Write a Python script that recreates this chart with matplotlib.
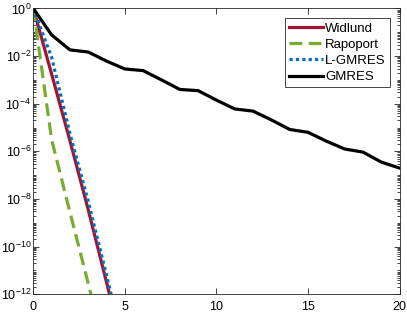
import numpy as np
import matplotlib
matplotlib.use("Agg")
import matplotlib.pyplot as plt
from matplotlib.ticker import LogLocator, FixedLocator, NullFormatter

plt.rcParams['font.family'] = ['Liberation Sans', 'DejaVu Sans']
plt.rcParams['mathtext.fontset'] = 'custom'
plt.rcParams['mathtext.rm'] = 'Liberation Sans'
plt.rcParams['mathtext.it'] = 'Liberation Sans:italic'

# iteration counts
it_short = [0, 1, 2, 3, 4, 5]
it_gmres = list(range(0, 21))

# log10 of residuals
widlund_log = [0, -2.75, -5.55, -8.45, -11.5, -14.6]
rapoport_log = [0, -5.5, -8.55, -11.55, -14.6, -17.6]
lgmres_log = [0, -2.05, -5.25, -8.1, -11.2, -14.4]
gmres_log = [0, -1.11, -1.74, -1.83, -2.21, -2.54, -2.61, -3.00, -3.40, -3.45,
             -3.85, -4.22, -4.31, -4.68, -5.08, -5.20, -5.57, -5.90, -6.03,
             -6.45, -6.70]

labels = ['Widlund', 'Rapoport', 'L-GMRES', 'GMRES']
colors = ['#A2142F', '#77AC30', '#0072BD', '#000000']

fig = plt.figure(figsize=(4.07, 3.13), dpi=100)
ax = fig.add_axes([0.0818, 0.0597, 0.9, 0.9133])

lw = 2.3
ax.semilogy(it_short, 10.0 ** np.array(widlund_log), '-', color=colors[0], lw=lw, label=labels[0])
ax.semilogy(it_short, 10.0 ** np.array(rapoport_log), '--', color=colors[1], lw=lw,
            dashes=(4, 2), label=labels[1])
ax.semilogy(it_short, 10.0 ** np.array(lgmres_log), ':', color=colors[2], lw=lw,
            dashes=(1, 1), label=labels[2])
ax.semilogy(it_gmres, 10.0 ** np.array(gmres_log), '-', color=colors[3], lw=lw, label=labels[3])

ax.set_xlim(0, 20)
ax.set_ylim(1e-12, 1e0)
ax.xaxis.set_major_locator(FixedLocator([0, 5, 10, 15, 20]))
ax.yaxis.set_major_locator(FixedLocator([10.0 ** e for e in range(-12, 1, 2)]))
ax.yaxis.set_minor_locator(LogLocator(base=10, subs=np.arange(1, 10), numticks=100))
ax.yaxis.set_minor_formatter(NullFormatter())

axcol = '#262626'
for s in ax.spines.values():
    s.set_color(axcol)
    s.set_linewidth(0.6)
ax.tick_params(which='both', direction='in', top=True, right=True, colors=axcol,
               labelcolor='black', labelsize=9, width=0.6)
ax.tick_params(which='major', length=4)
ax.tick_params(which='minor', length=2.2)
ax.tick_params(axis='x', pad=5)
ax.tick_params(axis='y', pad=1.5)

leg = ax.legend(loc='upper right', fontsize=9.5, fancybox=False, framealpha=1,
                edgecolor=axcol, handlelength=2.6, handletextpad=0.15,
                borderpad=0.3, labelspacing=0.3, borderaxespad=0.75)
leg.get_frame().set_linewidth(0.6)

fig.savefig('out.png', dpi=100)
